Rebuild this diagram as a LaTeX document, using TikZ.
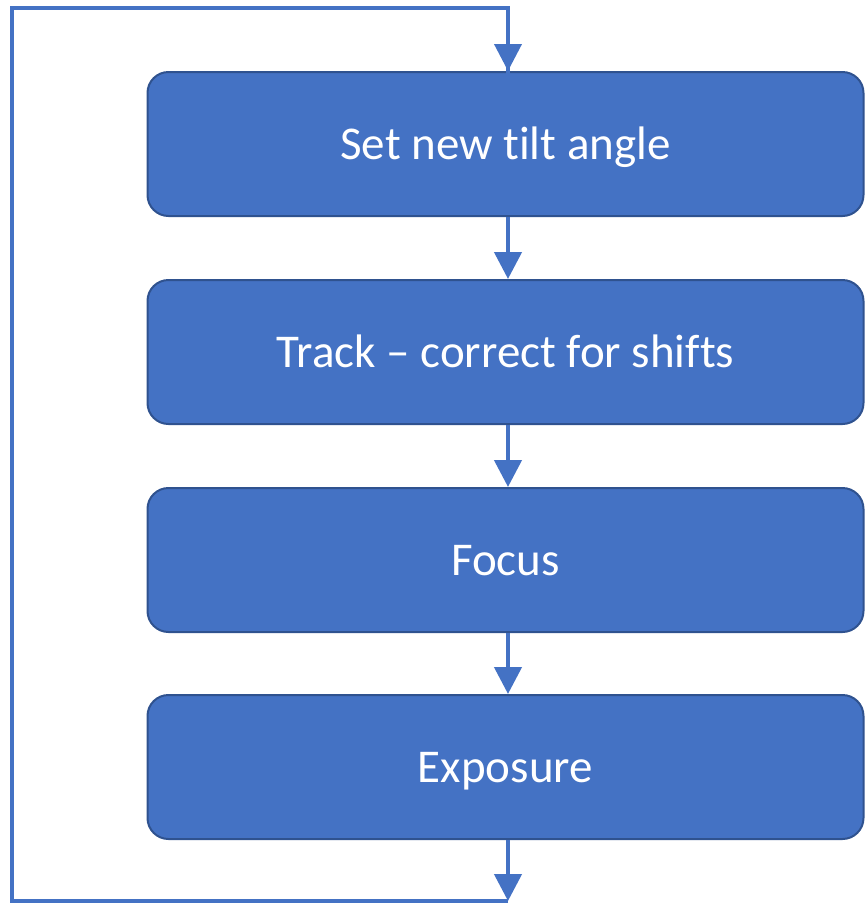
\documentclass[tikz,border=0pt]{standalone}
\usepackage{fontspec}
\setmainfont{Carlito}[Ligatures={NoCommon}]
\usetikzlibrary{arrows.meta}
\definecolor{boxfill}{HTML}{4472C4}
\definecolor{boxline}{HTML}{2F528F}
\begin{document}
\begin{tikzpicture}[x=1pt,y=-1pt,
  stage/.style={draw=boxline, line width=2pt, fill=boxfill, rounded corners=21pt,
    minimum width=716pt, minimum height=144pt, inner sep=0pt, text=white,
    text height=30.3pt, text depth=0pt,
    font=\fontsize{47}{56}\selectfont},
  flow/.style={draw=boxfill, line width=4.5pt, -{Triangle[width=27pt,length=27pt]}},
  loop/.style={draw=boxfill, line width=4pt}]
  \useasboundingbox (0,0) rectangle (865,903);
  % process steps
  \node[stage] (b1) at (505.5,144) {Set new tilt angle};
  \node[stage] (b2) at (505.5,352) {Track -- correct for shifts};
  \node[stage] (b3) at (505.5,560) {Focus};
  \node[stage] (b4) at (505.5,767) {Exposure};
  % column of the connectors
  \coordinate (ax) at (508,0);
  % straight connectors between steps
  \draw[flow] (b1.south -| ax) -- (b2.north -| ax);
  \draw[flow] (b2.south -| ax) -- (b3.north -| ax);
  \draw[flow] (b3.south -| ax) -- (b4.north -| ax);
  % feedback loop back to the first step
  \coordinate (lb) at (508,901);
  \coordinate (lbl) at (12,901);
  \coordinate (ltl) at (12,8);
  \coordinate (lt) at (508,8);
  \draw[flow] (b4.south -| ax) -- (lb);
  \draw[loop, line join=miter] (lb) -- (lbl) -- (ltl) -- (lt) -- ([yshift=-20pt]b1.north -| ax);
  \draw[flow, line width=4pt] (lt) -- (b1.north -| ax);
\end{tikzpicture}
\end{document}
